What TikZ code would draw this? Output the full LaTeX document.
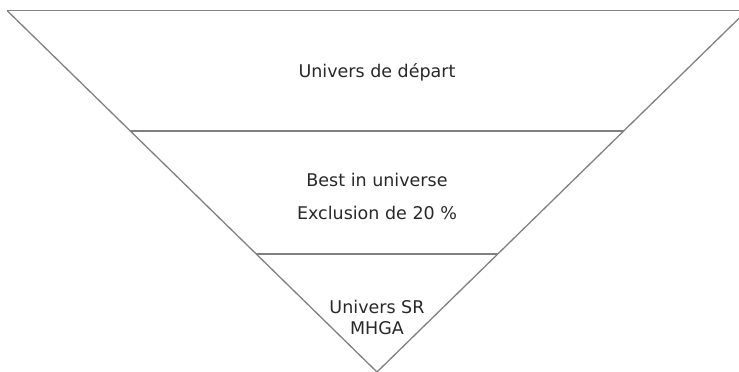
\documentclass[tikz,border=0pt]{standalone}
\usepackage{fontspec}
\setmainfont{DejaVu Sans}
\usepackage{tikz}
\usetikzlibrary{positioning}
\definecolor{edgegray}{RGB}{128,128,128}
\definecolor{textgray}{RGB}{40,40,40}

\begin{document}
\begin{tikzpicture}[x=1pt,y=-1pt,
		edge/.style={draw=edgegray,line width=1.3pt},
		label/.style={text=textgray,font=\fontsize{17.5}{21}\selectfont,inner sep=0pt,align=center}]
			\useasboundingbox (0,0) rectangle (739,372);
			\clip (0,0) rectangle (739,372);

			\coordinate (topleft) at (7,10.5);
			\coordinate (topright) at (747,10.5);
			\coordinate (apex) at (377,372);
			\coordinate (midleft) at (130.3,131);
			\coordinate (midright) at (623.7,131);
			\coordinate (lowleft) at (256.2,254);
			\coordinate (lowright) at (497.8,254);

			\node[label] (start) at (377,72) {Univers de départ};
			\node[label] (best) at (377,180) {Best in universe};
			\node[label] (excl) at (377,213) {Exclusion de 20 \%};
			\node[label] (sr) at (377,307) {Univers SR};
			\node[label] (mhga) at (377,328) {MHGA};

			\draw [edge] (topleft) to (topright);
			\draw [edge] (topleft) to (apex);
			\draw [edge] (topright) to (apex);
			\draw [edge] (midleft) to (midright);
			\draw [edge] (lowleft) to (lowright);
		\end{tikzpicture}
\end{document}
